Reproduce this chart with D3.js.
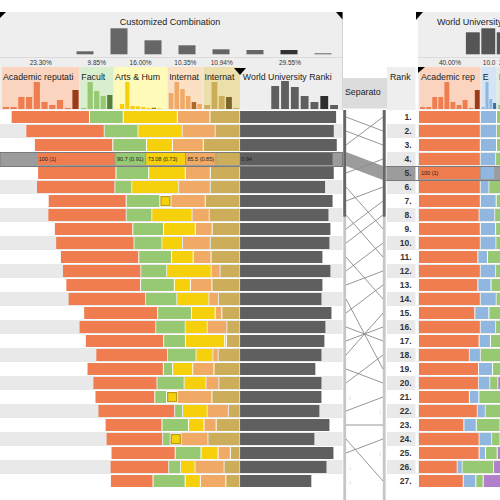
<!DOCTYPE html>
<html>
<head>
<meta charset="utf-8">
<script src="https://cdn.jsdelivr.net/npm/d3@7/dist/d3.min.js"></script>
<style>
html,body{margin:0;padding:0;background:#fff;}
svg{display:block;font-family:"Liberation Sans",Arial,Helvetica,sans-serif;}
</style>
</head>
<body>
<svg id="chart" width="500" height="500"></svg>
<script>
// ---------------- data ----------------
const groupTitle = "Customized Combination";
const subNames = ["Academic reputation", "Faculty/Student", "Arts & Humanities", "International faculty", "International students"];
const subWeights = [23.30, 9.85, 16.00, 10.35, 10.94];
const wurName = "World University Ranking";
const wurWeight = 29.55;

// left table rows (sorted by combined score)
const academic = [100,100,100,100,100,100,99.5,100,100,100,100,100,95.3,98.7,94.4,97.8,100,91.4,97.4,81.5,76,97.8,72.2,71.8,81.7,74.4,53.8];
const faculty  = [100,100,100,90.7,97,48.5,100,75,91,82,97,76,100,92.7,100,87,63.6,84,25.2,80,33,21,77.9,20,75.8,33,95.2];
const arts     = [100,81.5,47.2,73.08,67,86.4,null,74,58,37,39,82,28.5,58.6,42.9,39.7,72,29.9,36,39.2,null,44.8,27.4,null,30.4,25.6,26.7];
const intlA    = [92,93,86.5,85.5,70,89.3,97,47,46,78,49,23,59.6,24.8,16.4,53.9,2,12.4,58.8,34.6,97,58.5,32.6,75,32.6,81.6,71.2];
const intlB    = [80,65.6,98.4,63.7,79,79,93,82,74,79,77,52,74.6,56.6,47.3,33.6,34.7,57.4,69,55.5,74.6,29.2,62.8,85.5,23.8,41,36.3];
const wurScore = [0.976,0.952,0.983,0.94,0.952,0.864,0.94,0.898,0.918,0.908,0.837,0.918,0.837,0.827,0.929,0.867,0.857,0.827,0.765,0.827,0.827,0.806,0.908,0.755,0.949,0.878,0.724];
const highlightLeft = 3;   // 0-based row index
const highlightRight = 4;  // 0-based rank index

// link from left row -> right rank (1-based), null = partner below view
const linkTarget = [2,3,1,5,4,9,6,11,7,8,14,10,12,19,13,17,16,15,20,18,null,21,23,27,24,null,null];
const rightArrows = [22,25];

// right table (sorted by World University Ranking)
const rankLabels = ["1.","2.","3.","4.","5.","6.","7.","8.","9.","10.","11.","12.","13.","14.","15.","16.","17.","18.","19.","20.","21.","22.","23.","24.","25.","26.","27."];
const rightTitle = "World University";
const rightNames = ["Academic reputation", "Employer reputation", "Faculty/Student", "International"];
const rightWeights = [40.00, 10.00, 20.00, 30.00];
const rAcademic = [100,100,100,100,100,100,100,98,100,100,96,100,96,100,91,100,98,82,97,97,82,95,73,98,98,62,72];
const rEmployer = [100,100,100,94,88,50,98,96,94,96,57,94,80,98,86,94,68,66,86,68,56,46,75,76,36,26,76];
const rFaculty  = [70,75,80,72,0,60,74,70,66,72,64,70,62,75,68,66,70,78,64,23,80,48,75,24,35,100,21];
const rIntl     = [50,50,50,50,0,50,50,50,50,50,50,50,50,50,50,50,50,50,50,60,50,50,50,50,60,60,70];

// header histograms (bin heights)
const histCombined = [0,0,3,26,14,9,5,4.3,4.3,1];
const histAcademic = [2,2,12,12,27,7,4,9,1,19];
const histFaculty  = [1,27,18,13,14];
const histArts     = [0,5,27,3,2.7,2,1,1.3,0.7,0];
const histIntlA    = [16,27,20,13,7,5];
const histIntlB    = [4,27,13,12,1];
const histWur      = [0,0,0,23,28,22,13,7,13,4];
const histRight    = [0,0,0,22,26,22,14,8,4,2];
const histEmployer = [2,27,10,6];
const histRFaculty = [4,20,27,15];
const histRIntl    = [3,10,20,12];
const histHighlightBin = [8, 9, 4, 7, 4, 3, 8];

// ---------------- style ----------------
const barColors = ["#ef7d4f","#96c972","#f6d10b","#f1aa65","#ccad59"];
const darkColors = ["#9b3b1a","#567f3b","#a38a00","#ad672a","#7a6628"];
const headBg = ["#fad4be","#d9eecd","#fefaba","#fbe0c4","#ecdfaa"];
const headPad = [3.5, 3.5, 3.5, 3.5, 4.8];
const wurColor = "#5f5f5f";
const rightColors = ["#ef7d4f","#8fb7df","#96c972","#b27fca"];
const rightHeadBg = ["#fad4be","#d4e4f4","#d9eecd","#e8d8ef"];
const rightDark = ["#9b3b1a","#3f6f9c","#567f3b","#7b4a94"];
const headFont = 8.8;

const svg = d3.select("#chart");
const N = academic.length;
const rowY = d3.scaleBand().domain(d3.range(N)).range([110, 110 + 14 * N]);
const W = 332;
const stackRight = 239.5;

// fit a text element into maxW by dropping trailing characters
function fit(sel, maxW) {
  const node = sel.node();
  let s = sel.text();
  while (s.length > 1 && node.getComputedTextLength() > maxW) {
    s = s.slice(0, -1);
    sel.text(s);
  }
  return sel;
}

// column geometry from weights
let cx = 2;
const subCols = subWeights.map((w) => {
  const width = w / 100 * W;
  const c = {x: cx, w: width, scale: d3.scaleLinear().domain([0, 100]).range([0, width])};
  cx += width + 1;
  return c;
});
const wurCol = {x: cx, w: wurWeight / 100 * W};
const wurX = d3.scaleLinear().domain([0, 1]).range([0, 98.4]);

const WR = 152;
let rx = 419.5;
const rCols = rightWeights.map(w => {
  const width = w / 100 * WR;
  const c = {x: rx, w: width, scale: d3.scaleLinear().domain([0, 100]).range([0, width])};
  rx += width + 1;
  return c;
});

// ---------------- headers ----------------
svg.append("rect").attr("x", 0).attr("y", 12).attr("width", 342.5).attr("height", 98).attr("fill", "#eeeeee");
svg.append("line").attr("x1", 0).attr("x2", 342.5).attr("y1", 57.5).attr("y2", 57.5).attr("stroke", "#dcdcdc");
svg.append("line").attr("x1", 342.5).attr("x2", 342.5).attr("y1", 12).attr("y2", 110).attr("stroke", "#d4d4d4");
svg.append("text").attr("x", 170).attr("y", 25).attr("text-anchor", "middle").attr("font-size", 9).attr("fill", "#222").text(groupTitle);

const gx = d3.scaleBand().domain(d3.range(histCombined.length)).range([0, 340]).paddingInner(0.5).paddingOuter(0.25);
const gy = d3.scaleLinear().domain([0, 27]).range([54.3, 27.3]);
svg.append("g").selectAll("rect").data(histCombined).join("rect")
  .attr("x", (d, i) => gx(i)).attr("width", gx.bandwidth())
  .attr("y", d => gy(d)).attr("height", d => 54.3 - gy(d))
  .attr("fill", (d, i) => i === histHighlightBin[0] ? "#333" : "#666");

svg.append("rect").attr("x", 418).attr("y", 12).attr("width", 90).attr("height", 98).attr("fill", "#eeeeee");
svg.append("line").attr("x1", 418).attr("x2", 500).attr("y1", 57.5).attr("y2", 57.5).attr("stroke", "#dcdcdc");
svg.append("text").attr("x", 437).attr("y", 25).attr("font-size", 9).attr("fill", "#222").text(rightTitle);
const rgx = d3.scaleBand().domain(d3.range(histRight.length)).range([418, 574]).paddingInner(0.1).paddingOuter(0.1);
svg.append("g").selectAll("rect").data(histRight).join("rect")
  .attr("x", (d, i) => rgx(i)).attr("width", rgx.bandwidth())
  .attr("y", d => gy(d)).attr("height", d => 54.3 - gy(d))
  .attr("fill", "#555");

const hy = d3.scaleLinear().domain([0, 28]).range([109, 81]);
function subHeader(col, name, weightLabel, bg, hist, color, dark, hl, off, pad) {
  const g = svg.append("g");
  const visW = Math.min(col.w, 500 - col.x);
  g.append("rect").attr("x", col.x).attr("y", 67).attr("width", col.w).attr("height", 42).attr("fill", bg);
  const hx = d3.scaleBand().domain(d3.range(hist.length)).range([col.x, col.x + col.w]).paddingInner(0.2).paddingOuter(0.1);
  g.append("g").selectAll("rect").data(hist).join("rect")
    .attr("x", (d, i) => hx(i)).attr("width", hx.bandwidth())
    .attr("y", d => hy(d)).attr("height", d => 109 - hy(d))
    .attr("fill", (d, i) => i === hl ? dark : color);
  const pct = g.append("text").attr("y", 64.5).attr("font-size", 6.5).attr("fill", "#333").text(weightLabel);
  const tw = pct.node().getComputedTextLength();
  if (tw < visW - 2) pct.attr("x", col.x + col.w / 2).attr("text-anchor", "middle");
  else { pct.attr("x", col.x + 1.5); fit(pct, visW - 2); }
  const nm = g.append("text").attr("x", col.x + off).attr("y", 80).attr("font-size", headFont).attr("fill", "#222").text(name);
  fit(nm, visW - off - pad);
}
const leftHists = [histAcademic, histFaculty, histArts, histIntlA, histIntlB];
subCols.forEach((c, k) => {
  subHeader(c, subNames[k], subWeights[k].toFixed(2) + "%", headBg[k], leftHists[k], barColors[k], darkColors[k], histHighlightBin[k + 1], 1, headPad[k]);
});
subHeader(wurCol, wurName, wurWeight.toFixed(2) + "%", "#eeeeee", histWur, wurColor, "#2e2e2e", histHighlightBin[6], 2, 4);

const rHists = [histAcademic, histEmployer, histRFaculty, histRIntl];
rCols.forEach((c, k) => {
  subHeader(c, rightNames[k], rightWeights[k].toFixed(2) + "%", rightHeadBg[k], rHists[k], rightColors[k], rightDark[k], k === 0 ? 9 : 3, 1.5, 3.5);
});

// separator + rank headers
svg.append("rect").attr("x", 342.5).attr("y", 78).attr("width", 44.5).attr("height", 30.5).attr("fill", "#dcdcdc");
fit(svg.append("text").attr("x", 345).attr("y", 95).attr("font-size", headFont).attr("fill", "#222").text("Separator"), 37);
svg.append("rect").attr("x", 387).attr("y", 67).attr("width", 28.5).attr("height", 43).attr("fill", "#eeeeee");
svg.append("text").attr("x", 390).attr("y", 80).attr("font-size", headFont).attr("fill", "#222").text("Rank");

// triangles
const tri = (pts) => svg.append("path").attr("d", d3.line()(pts) + "Z").attr("fill", "#000");
tri([[0, 12], [6, 12], [0, 18]]);
tri([[336, 12], [342.5, 12], [342.5, 19.5]]);
tri([[234, 68], [246, 68], [240, 75]]);
tri([[416, 12], [423, 12], [416, 20]]);
tri([[418, 67], [425, 67], [418, 73]]);

// ---------------- rows ----------------
const rows = svg.append("g");
const bgFill = (i, h) => i === h ? "#9c9c9c" : (i % 2 ? "#e9e9e9" : "#ffffff");
rows.selectAll(".lbg").data(d3.range(N)).join("rect")
  .attr("x", 0).attr("width", 342.5).attr("y", i => rowY(i)).attr("height", 14)
  .attr("fill", i => bgFill(i, highlightLeft));
rows.selectAll(".rbg").data(d3.range(N)).join("rect")
  .attr("x", 387).attr("width", 28.5).attr("y", i => rowY(i)).attr("height", 14)
  .attr("fill", i => bgFill(i, highlightRight));
rows.selectAll(".rbg2").data(d3.range(N)).join("rect")
  .attr("x", 418).attr("width", 82).attr("y", i => rowY(i)).attr("height", 14)
  .attr("fill", i => bgFill(i, highlightRight));
svg.append("rect").attr("x", 0).attr("width", 342.5).attr("y", rowY(highlightLeft) + 0.5).attr("height", 14).attr("fill", "none").attr("stroke", "#7a7a7a");
svg.append("rect").attr("x", 386).attr("width", 116).attr("y", rowY(highlightRight) + 0.5).attr("height", 14).attr("fill", "none").attr("stroke", "#7a7a7a");

// stacked bars
const seriesL = [academic, faculty, arts, intlA, intlB];
const barsG = svg.append("g");
d3.range(N).forEach(i => {
  const vals = seriesL.map(s => s[i]);
  const widths = vals.map((v, k) => v == null ? 10 : subCols[k].scale(v));
  const total = d3.sum(widths) + (widths.length - 1);
  let x = stackRight - total;
  const y = rowY(i) + 1;
  vals.forEach((v, k) => {
    if (v == null) {
      barsG.append("rect").attr("x", x + 0.6).attr("y", y + 1.6).attr("width", 9).attr("height", 9)
        .attr("fill", barColors[k]).attr("stroke", "#b99b12").attr("stroke-width", 1.2);
    } else {
      barsG.append("rect").attr("x", x).attr("y", y).attr("width", widths[k]).attr("height", 12).attr("fill", barColors[k]);
      if (i === highlightLeft && k < 4) {
        const lbl = v === 100 ? "100 (1)" : v + " (" + (v / 100).toFixed(2) + ")";
        fit(barsG.append("text").attr("x", x + 1.5).attr("y", y + 8.3).attr("font-size", 5.5).attr("fill", "#222").text(lbl), widths[k] - 1.5);
      }
    }
    x += widths[k] + 1;
  });
  barsG.append("rect").attr("x", wurCol.x - 0.8).attr("y", y).attr("width", wurX(wurScore[i])).attr("height", 12).attr("fill", wurColor);
  if (i === highlightLeft) {
    barsG.append("text").attr("x", wurCol.x + 0.5).attr("y", y + 8.3).attr("font-size", 5.5).attr("fill", "#222").text(wurScore[i].toFixed(2));
  }
});

// rank labels
svg.append("g").selectAll("text").data(rankLabels).join("text")
  .attr("x", 411.5).attr("y", (d, i) => rowY(i) + 10.3).attr("text-anchor", "end")
  .attr("font-size", 8.5).attr("font-weight", "bold").attr("fill", "#333").text(d => d);

// right stacked bars
const seriesR = [rAcademic, rEmployer, rFaculty, rIntl];
const rBars = svg.append("g");
d3.range(N).forEach(i => {
  let x = 419;
  const y = rowY(i) + 1;
  seriesR.forEach((s, k) => {
    const w = rCols[k].scale(s[i]);
    if (x < 500 && w > 0) {
      rBars.append("rect").attr("x", x).attr("y", y).attr("width", Math.min(w, 500 - x)).attr("height", 12).attr("fill", rightColors[k]);
    }
    if (i === highlightRight && k === 0) {
      rBars.append("text").attr("x", x + 2).attr("y", y + 8.3).attr("font-size", 5.5).attr("fill", "#222").text("100 (1)");
    }
    x += w + 1;
  });
});

// ---------------- separator ----------------
const sepL = 346, sepR = 383;
const yc = i => rowY(i) + 7;
const sep = svg.append("g");
sep.append("rect").attr("x", 343.3).attr("y", 110).attr("width", 2.8).attr("height", 390).attr("fill", "#c6c6c6");
sep.append("rect").attr("x", 382.8).attr("y", 110).attr("width", 2.8).attr("height", 390).attr("fill", "#c6c6c6");
sep.append("rect").attr("x", 343.3).attr("y", 110).attr("width", 2.8).attr("height", 106.7).attr("fill", "#666");
sep.append("rect").attr("x", 382.8).attr("y", 110).attr("width", 2.8).attr("height", 106.7).attr("fill", "#666");
const hT = rowY(highlightLeft), rT = rowY(highlightRight);
sep.append("path").attr("d", d3.line()([[sepL, hT], [sepR, rT], [sepR, rT + 14], [sepL, hT + 14]]) + "Z").attr("fill", "#9c9c9c");
sep.selectAll("line.link").data(linkTarget.map((t, i) => ({i, t})).filter(d => d.t != null && d.i !== highlightLeft)).join("line")
  .attr("x1", sepL).attr("y1", d => yc(d.i)).attr("x2", sepR).attr("y2", d => yc(d.t - 1))
  .attr("stroke", "#8a8a8a").attr("stroke-width", 0.9);
sep.selectAll("text.la").data(linkTarget.map((t, i) => ({i, t})).filter(d => d.t == null)).join("text")
  .attr("x", 350).attr("y", d => yc(d.i) + 3).attr("font-size", 8).attr("fill", "#cccccc").attr("text-anchor", "middle").text("↓");
sep.selectAll("text.ra").data(rightArrows).join("text")
  .attr("x", 380).attr("y", d => yc(d - 1) + 3).attr("font-size", 8).attr("fill", "#cccccc").attr("text-anchor", "middle").text("↓");
</script>
</body>
</html>
